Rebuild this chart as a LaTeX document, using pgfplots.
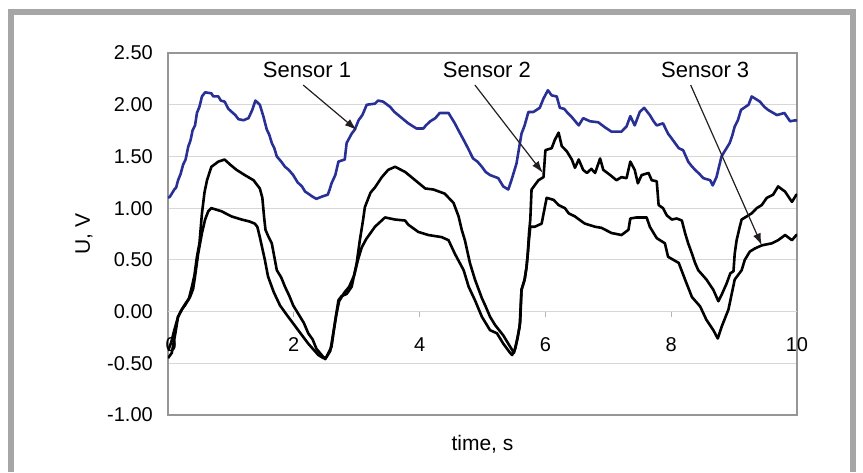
\documentclass[border=0pt]{standalone}
\usepackage{fontspec}
\setmainfont{Liberation Sans}
\usepackage{pgfplots}
\pgfplotsset{compat=1.18}
\usetikzlibrary{arrows.meta}
\definecolor{sblue}{RGB}{40,48,150}
\definecolor{framegray}{RGB}{166,166,166}
\definecolor{gridgray}{RGB}{215,215,215}
\definecolor{axgray}{RGB}{150,150,150}
\definecolor{arrowc}{RGB}{35,31,32}
\newcommand{\tickfont}{\fontsize{20}{24}\selectfont}
\newcommand{\labfont}{\fontsize{21}{25}\selectfont}
\newcommand{\annfont}{\fontsize{22}{26}\selectfont}
\begin{document}
\begin{tikzpicture}
\path[use as bounding box] (-168pt,-57pt) rectangle (695pt,415pt);
\fill[framegray] (-160pt,-57pt) rectangle (-154pt,406pt);
\fill[framegray] (-160pt,400pt) rectangle (688pt,406pt);
\fill[framegray] (682pt,-57pt) rectangle (688pt,406pt);
\begin{axis}[
  scale only axis, width=629pt, height=362pt,
  xmin=0, xmax=10, ymin=-1, ymax=2.5,
  xtick=\empty,
  ytick={-1,-0.5,0,0.5,1,1.5,2,2.5},
  yticklabels={-1.00,-0.50,0.00,0.50,1.00,1.50,2.00,2.50},
  ytick style={draw=none},
  yticklabel style={font=\tickfont, inner sep=0pt, xshift=-15pt},
  ymajorgrids, grid style={gridgray, line width=1.1pt},
  axis line style={axgray, line width=1.6pt},
  clip mode=individual,
]
\draw[gridgray, line width=1.2pt] (axis cs:0,0) -- (axis cs:10,0);
\draw[axgray!70, line width=1pt] (axis cs:2,0) -- (axis cs:2,-0.05);
\draw[axgray!70, line width=1pt] (axis cs:4,0) -- (axis cs:4,-0.05);
\draw[axgray!70, line width=1pt] (axis cs:6,0) -- (axis cs:6,-0.05);
\draw[axgray!70, line width=1pt] (axis cs:8,0) -- (axis cs:8,-0.05);
\addplot[sblue, line width=2.6pt, line join=round] coordinates {
(0.00,1.10)(0.03,1.11)(0.10,1.18)(0.13,1.20)(0.16,1.27)(0.20,1.33)(0.24,1.42)(0.28,1.47)(0.32,1.59)(0.36,1.66)(0.39,1.75)(0.43,1.80)(0.46,1.92)(0.50,1.98)(0.54,2.08)(0.59,2.12)(0.69,2.11)(0.72,2.08)(0.80,2.08)(0.84,2.04)(0.90,2.03)(0.96,1.96)(1.07,1.90)(1.12,1.86)(1.20,1.85)(1.28,1.87)(1.34,1.95)(1.39,2.04)(1.46,2.00)(1.52,1.88)(1.57,1.76)(1.61,1.71)(1.65,1.63)(1.69,1.58)(1.73,1.50)(1.80,1.45)(1.86,1.40)(1.92,1.37)(1.99,1.32)(2.06,1.25)(2.13,1.21)(2.18,1.16)(2.23,1.14)(2.30,1.11)(2.36,1.09)(2.44,1.11)(2.54,1.13)(2.57,1.18)(2.60,1.24)(2.66,1.32)(2.71,1.45)(2.81,1.47)(2.84,1.63)(2.92,1.72)(2.97,1.76)(3.03,1.85)(3.09,1.90)(3.16,2.00)(3.29,2.01)(3.34,2.04)(3.42,2.03)(3.53,1.98)(3.60,1.93)(3.66,1.90)(3.74,1.86)(3.82,1.82)(3.95,1.77)(4.06,1.77)(4.10,1.80)(4.17,1.84)(4.25,1.87)(4.32,1.92)(4.46,1.92)(4.56,1.82)(4.62,1.75)(4.70,1.66)(4.76,1.59)(4.85,1.48)(4.92,1.45)(4.99,1.40)(5.05,1.35)(5.12,1.32)(5.25,1.29)(5.33,1.21)(5.41,1.18)(5.46,1.27)(5.54,1.43)(5.62,1.72)(5.67,1.80)(5.73,1.93)(5.81,1.93)(5.86,1.95)(5.91,1.97)(5.97,2.06)(6.04,2.14)(6.10,2.09)(6.18,2.08)(6.23,1.97)(6.30,1.96)(6.34,1.93)(6.42,1.88)(6.53,1.80)(6.60,1.87)(6.71,1.84)(6.84,1.83)(6.95,1.78)(7.05,1.74)(7.21,1.74)(7.29,1.79)(7.35,1.89)(7.42,1.80)(7.50,1.93)(7.57,1.97)(7.66,1.90)(7.72,1.84)(7.77,1.80)(7.87,1.82)(7.95,1.72)(8.00,1.68)(8.06,1.63)(8.12,1.58)(8.19,1.56)(8.27,1.45)(8.32,1.41)(8.38,1.37)(8.45,1.33)(8.51,1.29)(8.62,1.27)(8.66,1.22)(8.72,1.30)(8.80,1.50)(8.86,1.56)(8.93,1.63)(8.97,1.70)(9.01,1.79)(9.06,1.85)(9.11,1.95)(9.23,2.00)(9.28,2.08)(9.41,2.03)(9.48,1.98)(9.54,1.95)(9.68,1.90)(9.80,1.92)(9.89,1.84)(9.98,1.85)(10.0,1.84)
};
\addplot[black, line width=2.6pt, line join=round] coordinates {
(0.00,-0.38)(0.05,-0.30)(0.10,-0.18)(0.16,-0.05)(0.22,0.02)(0.27,0.06)(0.33,0.12)(0.38,0.24)(0.42,0.35)(0.46,0.53)(0.50,0.66)(0.54,0.95)(0.58,1.15)(0.62,1.27)(0.69,1.40)(0.80,1.45)(0.90,1.47)(0.99,1.42)(1.09,1.37)(1.22,1.32)(1.36,1.27)(1.46,1.19)(1.50,1.10)(1.53,0.90)(1.55,0.79)(1.60,0.72)(1.65,0.66)(1.73,0.40)(1.80,0.33)(1.86,0.24)(1.93,0.15)(1.99,0.06)(2.10,-0.05)(2.16,-0.11)(2.23,-0.21)(2.30,-0.27)(2.36,-0.36)(2.47,-0.44)(2.50,-0.46)(2.55,-0.40)(2.60,-0.34)(2.66,-0.08)(2.71,0.11)(2.76,0.15)(2.84,0.17)(2.92,0.24)(3.00,0.47)(3.05,0.69)(3.10,0.88)(3.13,1.01)(3.22,1.15)(3.29,1.20)(3.40,1.30)(3.50,1.37)(3.61,1.40)(3.77,1.35)(3.93,1.27)(4.09,1.19)(4.22,1.18)(4.40,1.14)(4.54,1.05)(4.62,0.92)(4.67,0.79)(4.72,0.69)(4.80,0.47)(4.88,0.31)(4.99,0.13)(5.05,0.05)(5.12,-0.05)(5.20,-0.13)(5.33,-0.23)(5.44,-0.34)(5.50,-0.40)(5.54,-0.30)(5.59,-0.15)(5.62,0.21)(5.67,0.31)(5.70,0.43)(5.72,0.56)(5.74,0.76)(5.76,0.89)(5.78,1.18)(5.89,1.27)(5.97,1.30)(6.00,1.56)(6.10,1.58)(6.15,1.66)(6.21,1.73)(6.26,1.60)(6.34,1.55)(6.42,1.47)(6.47,1.39)(6.53,1.47)(6.60,1.37)(6.66,1.34)(6.73,1.38)(6.79,1.34)(6.87,1.48)(6.92,1.37)(7.03,1.32)(7.13,1.27)(7.21,1.30)(7.29,1.29)(7.35,1.45)(7.42,1.37)(7.47,1.24)(7.53,1.32)(7.64,1.34)(7.69,1.27)(7.77,1.26)(7.80,1.03)(7.87,1.00)(7.93,0.93)(8.01,0.89)(8.09,0.90)(8.17,0.88)(8.22,0.76)(8.27,0.66)(8.33,0.56)(8.38,0.47)(8.43,0.40)(8.56,0.31)(8.67,0.21)(8.75,0.10)(8.80,0.16)(8.88,0.27)(8.94,0.37)(8.99,0.39)(9.01,0.56)(9.04,0.69)(9.09,0.82)(9.12,0.89)(9.20,0.92)(9.28,0.95)(9.36,1.00)(9.44,1.03)(9.52,1.10)(9.62,1.13)(9.70,1.21)(9.81,1.16)(9.92,1.06)(9.99,1.13)(10.0,1.12)
};
\addplot[black, line width=2.6pt, line join=round] coordinates {
(0.00,-0.45)(0.06,-0.40)(0.12,-0.20)(0.16,-0.05)(0.22,0.02)(0.28,0.08)(0.35,0.14)(0.40,0.22)(0.43,0.34)(0.48,0.56)(0.54,0.76)(0.59,0.89)(0.64,0.97)(0.69,1.00)(0.85,0.97)(1.01,0.92)(1.17,0.89)(1.30,0.87)(1.38,0.85)(1.42,0.82)(1.46,0.72)(1.54,0.50)(1.59,0.34)(1.68,0.19)(1.78,0.06)(1.91,-0.05)(2.07,-0.18)(2.23,-0.31)(2.39,-0.42)(2.47,-0.45)(2.52,-0.44)(2.58,-0.38)(2.63,-0.20)(2.68,-0.02)(2.72,0.10)(2.80,0.18)(2.88,0.24)(2.96,0.35)(3.02,0.50)(3.08,0.62)(3.15,0.70)(3.29,0.82)(3.45,0.91)(3.61,0.89)(3.77,0.88)(3.82,0.84)(3.98,0.77)(4.14,0.74)(4.35,0.72)(4.46,0.69)(4.56,0.56)(4.70,0.40)(4.78,0.24)(4.88,0.11)(4.99,-0.05)(5.12,-0.18)(5.23,-0.21)(5.33,-0.31)(5.44,-0.40)(5.47,-0.42)(5.52,-0.36)(5.56,-0.25)(5.60,-0.10)(5.62,0.21)(5.67,0.31)(5.70,0.43)(5.72,0.56)(5.74,0.70)(5.76,0.82)(5.83,0.82)(5.94,0.85)(6.02,1.10)(6.13,1.08)(6.21,1.03)(6.31,1.00)(6.37,0.95)(6.47,0.92)(6.58,0.87)(6.63,0.85)(6.79,0.82)(6.89,0.81)(7.05,0.76)(7.21,0.74)(7.32,0.79)(7.35,0.90)(7.45,0.91)(7.61,0.91)(7.66,0.82)(7.77,0.71)(7.90,0.66)(7.95,0.53)(8.12,0.47)(8.22,0.31)(8.33,0.14)(8.46,0.05)(8.56,-0.08)(8.67,-0.18)(8.74,-0.26)(8.80,-0.15)(8.91,0.02)(9.01,0.31)(9.12,0.40)(9.17,0.50)(9.25,0.58)(9.33,0.61)(9.44,0.64)(9.60,0.66)(9.70,0.69)(9.81,0.74)(9.92,0.69)(9.99,0.74)(10.0,0.74)
};
\node[font=\tickfont] at (axis cs:0.05,0) [yshift=-33pt] {0};
\node[font=\tickfont] at (axis cs:2,0) [yshift=-33pt] {2};
\node[font=\tickfont] at (axis cs:4,0) [yshift=-33pt] {4};
\node[font=\tickfont] at (axis cs:6,0) [yshift=-33pt] {6};
\node[font=\tickfont] at (axis cs:8,0) [yshift=-33pt] {8};
\node[font=\tickfont] at (axis cs:10,0) [yshift=-33pt] {10};
\node[font=\annfont, anchor=base] at (axis cs:2.21,2.26) {Sensor 1};
\node[font=\annfont, anchor=base] at (axis cs:5.07,2.26) {Sensor 2};
\node[font=\annfont, anchor=base] at (axis cs:8.54,2.26) {Sensor 3};
\draw[arrowc, line width=1.2pt, -{Latex[length=12pt,width=8pt]}] (axis cs:2.15,2.19) -- (axis cs:3.0,1.755);
\draw[arrowc, line width=1.2pt, -{Latex[length=12pt,width=8pt]}] (axis cs:4.88,2.19) -- (axis cs:5.96,1.34);
\draw[arrowc, line width=1.2pt, -{Latex[length=12pt,width=8pt]}] (axis cs:8.31,2.19) -- (axis cs:9.44,0.64);
\end{axis}
\node[font=\labfont, rotate=90] at (-84pt,181pt) {U, V};
\node[font=\labfont, anchor=base] at (314.5pt,-35pt) {time, s};
\end{tikzpicture}
\end{document}
